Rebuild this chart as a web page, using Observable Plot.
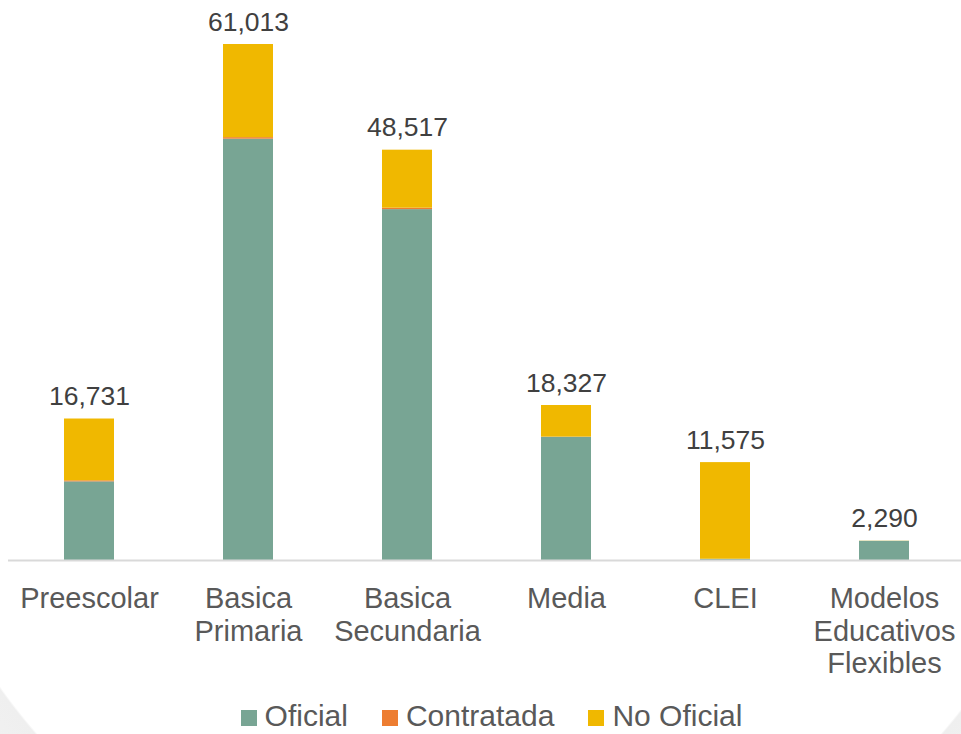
<!DOCTYPE html>
<html>
<head>
<meta charset="utf-8">
<script src="https://cdn.jsdelivr.net/npm/d3@7"></script>
<script src="https://cdn.jsdelivr.net/npm/@observablehq/plot@0.6"></script>
<style>
  html, body { margin: 0; padding: 0; overflow: hidden; }
  html {
    height: 100%;
    background: radial-gradient(circle 600px at 489px 340px, #ffffff 599px, #efefef 601px, #f4f4f4 700px);
  }
  body { font-family: "Liberation Sans", Arial, sans-serif; width: 961px; }
  #legend {
    display: flex; align-items: center; justify-content: center;
    margin-top: 9px; margin-left: 22px;
    font-size: 30px; line-height: 24px; height: 24px; color: #595959;
  }
  #legend .item { display: flex; align-items: center; margin: 0 17px; }
  #legend .sw { width: 16px; height: 16px; margin-right: 8px; margin-top: 4px; }
</style>
</head>
<body>
<div id="chart"></div>
<div id="legend"></div>
<script>
const categories = ["Preescolar", "Basica Primaria", "Basica Secundaria", "Media", "CLEI", "Modelos Educativos Flexibles"];
const tickLabels = ["Preescolar", "Basica\nPrimaria", "Basica\nSecundaria", "Media", "CLEI", "Modelos\nEducativos\nFlexibles"];
const seriesNames = ["Oficial", "Contratada", "No Oficial"];
const seriesColors = ["#78a594", "#ed7d31", "#f0b800"];
const oficial    = [9300, 49820, 41490, 14570, 150, 2270];
const contratada = [120, 180, 170, 20, 0, 0];
const noOficial  = [7311, 11013, 6857, 3737, 11425, 20];
const totals     = [16731, 61013, 48517, 18327, 11575, 2290];

const rows = [];
const seriesValues = [oficial, contratada, noOficial];
seriesNames.forEach((s, si) => {
  categories.forEach((c, ci) => rows.push({category: c, series: s, value: seriesValues[si][ci]}));
});
const totalRows = categories.map((c, i) => ({category: c, total: totals[i]}));
const labelOf = new Map(categories.map((c, i) => [c, tickLabels[i]]));

const plot = Plot.plot({
  width: 961,
  height: 695,
  marginLeft: 8,
  marginRight: -4,
  marginTop: 44,
  marginBottom: 135,
  style: {background: "transparent", color: "#595959", fontFamily: "'Liberation Sans', Arial, sans-serif"},
  x: {domain: categories, paddingInner: 0.686, paddingOuter: 0.343, axis: null, label: null},
  y: {domain: [0, 61013], axis: null},
  color: {domain: seriesNames, range: seriesColors},
  marks: [
    Plot.barY(rows, {x: "category", y: "value", fill: "series", order: seriesNames}),
    Plot.ruleY([0], {stroke: "#d9d9d9", strokeWidth: 2}),
    Plot.text(totalRows, {x: "category", y: "total", text: d => d3.format(",")(d.total), dy: -14, lineAnchor: "bottom", fontSize: 26.5, fill: "#404040"}),
    Plot.axisX({tickSize: 0, tickPadding: 24, fontSize: 29, lineHeight: 1.13, label: null, tickFormat: d => labelOf.get(d)})
  ]
});
document.getElementById("chart").appendChild(plot);

const legend = document.getElementById("legend");
seriesNames.forEach((s, i) => {
  const item = document.createElement("div");
  item.className = "item";
  const sw = document.createElement("span");
  sw.className = "sw";
  sw.style.background = seriesColors[i];
  const t = document.createElement("span");
  t.textContent = s;
  item.appendChild(sw); item.appendChild(t);
  legend.appendChild(item);
});
</script>
</body>
</html>
